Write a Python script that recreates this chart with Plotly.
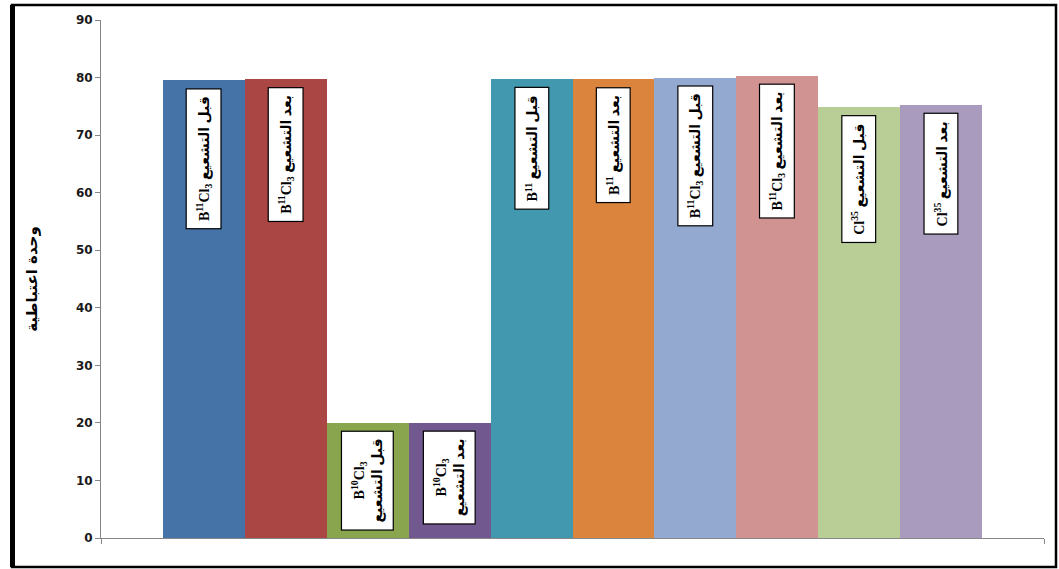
import plotly.graph_objects as go

# ---- data ----
isotopes = ["B<sup>11</sup>Cl<sub>3</sub>", "B<sup>11</sup>Cl<sub>3</sub>",
            "B<sup>10</sup>Cl<sub>3</sub>", "B<sup>10</sup>Cl<sub>3</sub>",
            "B<sup>11</sup>", "B<sup>11</sup>",
            "B<sup>11</sup>Cl<sub>3</sub>", "B<sup>11</sup>Cl<sub>3</sub>",
            "Cl<sup>35</sup>", "Cl<sup>35</sup>"]
states = ["قبل التشعيع", "بعد التشعيع"] * 5
values = [79.6, 79.8, 20.0, 20.0, 79.8, 79.8, 80.0, 80.3, 74.9, 75.3]
colors = ["#4572A7", "#AA4643", "#89A54E", "#71588F", "#4198AF",
          "#DB843D", "#93A9CF", "#D19392", "#B9CD96", "#A99BBD"]
y_ticks = [0, 10, 20, 30, 40, 50, 60, 70, 80, 90]
y_title = "وحدة اعتباطية"

n = len(values)
xs = list(range(n))
pad = 0.757  # outer gap (Excel gap width 150%)
xr = [-0.5 - pad, n - 0.5 + pad]

fig = go.Figure()
fig.add_trace(go.Bar(x=xs, y=values, width=1.0,
                     marker=dict(color=colors, line=dict(width=0)),
                     hoverinfo="y"))

label_font = dict(family="Liberation Serif, DejaVu Sans, serif", size=14,
                  color="black", weight="bold")
for i, (iso, st, v) in enumerate(zip(isotopes, states, values)):
    if v < 40:
        txt = f"{iso}<br>{st}"
    else:
        txt = f"{iso} {st}"
    fig.add_annotation(x=i, y=v, xref="x", yref="y", text=txt,
                       textangle=-90, showarrow=False,
                       xanchor="center", yanchor="top", yshift=-8,
                       bgcolor="white", bordercolor="black", borderwidth=1.2,
                       borderpad=7, font=label_font, align="center")

axis_grey = "#868686"
fig.update_xaxes(range=xr, showticklabels=False, showgrid=False,
                 zeroline=False, showline=True, linecolor=axis_grey,
                 linewidth=1, ticks="outside", ticklen=5, tickcolor=axis_grey,
                 tickvals=xr, fixedrange=True)
fig.update_yaxes(range=[0, 90], tickvals=y_ticks, showgrid=False,
                 zeroline=False, showline=True, linecolor=axis_grey,
                 linewidth=1, ticks="outside", ticklen=5, tickcolor=axis_grey,
                 tickfont=dict(family="DejaVu Sans, Verdana, sans-serif",
                               size=12, color="#1a1a1a", weight="bold"),
                 title=dict(text=y_title, standoff=34,
                            font=dict(family="DejaVu Sans, sans-serif",
                                      size=15, color="black", weight="bold")))

W, H = 1059, 569
ml, mr, mt, mb = 101, 15, 20, 31
pw, ph = W - ml - mr, H - mt - mb

def px(xp):
    return (xp - ml) / pw

def py(yp):
    return (H - mb - yp) / ph

# outer black frame
fig.add_shape(type="rect", xref="paper", yref="paper",
              x0=px(12), x1=px(1056), y0=py(567), y1=py(5),
              line=dict(color="black", width=2.5), layer="above")
fig.add_shape(type="line", xref="paper", yref="paper",
              x0=px(12.5), x1=px(12.5), y0=py(567), y1=py(5),
              line=dict(color="black", width=5), layer="above")

fig.update_layout(width=W, height=H,
                  margin=dict(l=ml, r=mr, t=mt, b=mb),
                  plot_bgcolor="white", paper_bgcolor="white",
                  showlegend=False, bargap=0)

fig.write_html("out.html", config={"displayModeBar": False},
               post_script="document.body.style.margin='0';document.body.style.overflow='hidden';")
